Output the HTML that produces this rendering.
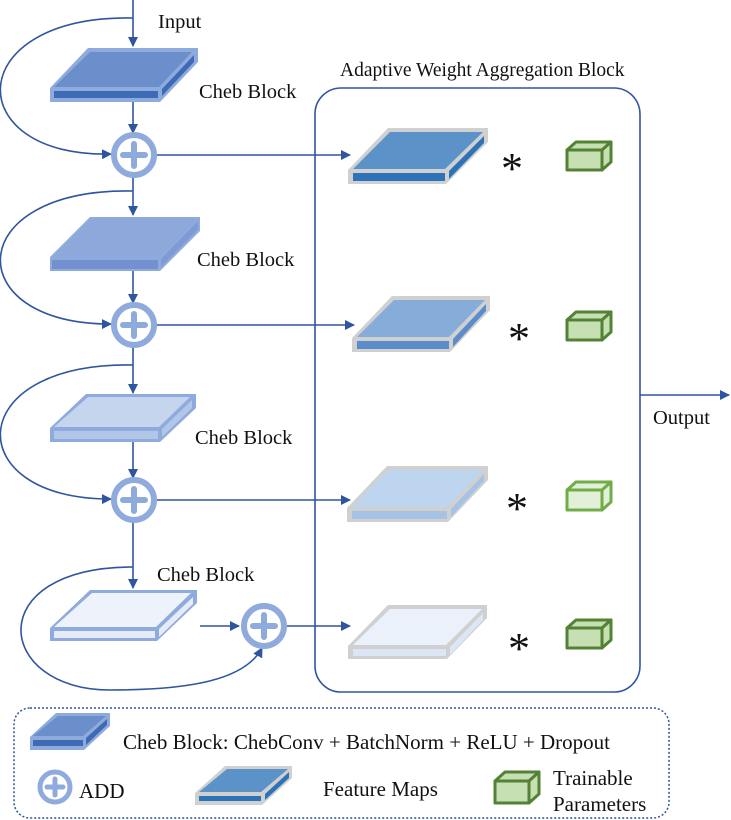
<!DOCTYPE html>
<html><head><meta charset="utf-8"><style>
html,body{margin:0;padding:0;background:#fff}
svg{display:block}
text{font-family:"Liberation Serif",serif;fill:#111}
</style></head><body>
<svg width="731" height="820" viewBox="0 0 731 820" xmlns="http://www.w3.org/2000/svg">
<defs>
<marker id="ah" markerWidth="10" markerHeight="10" refX="9" refY="5" orient="auto" markerUnits="userSpaceOnUse">
<path d="M0,0 L10,5 L0,10 Z" fill="#2f55a0"/></marker>
<g id="plus"><circle cx="0" cy="0" r="20" fill="#fff" stroke="#8faadc" stroke-width="6"/>
<path d="M-11,0 H11 M0,-11 V11" stroke="#8faadc" stroke-width="6" stroke-linecap="round"/></g>
</defs>

<rect x="315" y="88" width="325" height="604" rx="26" fill="none" stroke="#2f55a0" stroke-width="1.6"/>
<text x="340" y="76" font-size="19.5">Adaptive Weight Aggregation Block</text>
<line x1="640" y1="395" x2="729" y2="395" stroke="#2f55a0" stroke-width="1.6" marker-end="url(#ah)"/>
<text x="653" y="424" font-size="20.5">Output</text>
<text x="158" y="28" font-size="20.5">Input</text>

<g stroke="#2f55a0" stroke-width="1.6" fill="none">
<line x1="133" y1="0" x2="133" y2="46" marker-end="url(#ah)"/>
<line x1="133" y1="102" x2="133" y2="133" marker-end="url(#ah)"/>
<line x1="133" y1="177" x2="133" y2="215" marker-end="url(#ah)"/>
<line x1="133" y1="271" x2="133" y2="303" marker-end="url(#ah)"/>
<line x1="133" y1="347" x2="133" y2="393" marker-end="url(#ah)"/>
<line x1="133" y1="442" x2="133" y2="478" marker-end="url(#ah)"/>
<line x1="133" y1="522" x2="133" y2="588" marker-end="url(#ah)"/>
<line x1="200" y1="626" x2="239" y2="626" marker-end="url(#ah)"/>
<path d="M133,18 C-40,15 -40,158 111,154" marker-end="url(#ah)"/>
<path d="M133,191 C-40,188 -40,325 111,324" marker-end="url(#ah)"/>
<path d="M133,365 C-40,362 -40,500 111,499" marker-end="url(#ah)"/>
<path d="M133,567 C-20,567 -5,690 110,690 C190,690 245,680 262,648" marker-end="url(#ah)"/>
<line x1="157" y1="155" x2="350" y2="155" marker-end="url(#ah)"/>
<line x1="157" y1="325" x2="354" y2="325" marker-end="url(#ah)"/>
<line x1="157" y1="500" x2="350" y2="500" marker-end="url(#ah)"/>
<line x1="287" y1="626" x2="350" y2="626" marker-end="url(#ah)"/>
</g>

<use href="#plus" x="134" y="155"/>
<use href="#plus" x="134" y="325"/>
<use href="#plus" x="134" y="500"/>
<use href="#plus" x="264" y="626"/>

<g transform="translate(50,88)">
<polygon points="0,14 0,0 38,-40 148,-40 148,-26 110,14" fill="#8faadc"/>
<polygon points="4,-1 109,-1 142,-36 40,-36" fill="#6a8fcb"/>
<rect x="4" y="3" width="104" height="7" fill="#3e6bb5"/>
<polygon points="112,8 144,-26 144,-33 112,1" fill="#3e6bb5"/>
</g>
<g transform="translate(50,257)">
<polygon points="0,14 0,0 40,-40 150,-40 150,-26 110,14" fill="#8faadc"/>
<polygon points="2,0 110,0 148,-38 40,-38" fill="#8fa8db"/>
<rect x="2" y="3" width="106" height="9" fill="#7391d0"/>
<polygon points="111,10 148,-28 148,-36 111,2" fill="#7f9bd5"/>
</g>
<g transform="translate(50,428)">
<polygon points="0,14 0,0 36,-34 146,-34 146,-20 110,14" fill="#8faadc"/>
<polygon points="4,-1 109,-1 140,-31 38,-31" fill="#c5d5ee"/>
<rect x="4" y="3" width="104" height="8" fill="#b2c6e8"/>
<polygon points="112,9 142,-20 142,-28 112,1" fill="#b2c6e8"/>
</g>
<g transform="translate(50,628)">
<polygon points="0,13 0,0 40,-38 147,-38 147,-25 107,13" fill="#8faadc"/>
<polygon points="4,-1 106,-1 141,-35 42,-35" fill="#eef2fa"/>
<rect x="4" y="3" width="101" height="7" fill="#e6ecf7"/>
<polygon points="109,9 143,-24 143,-31 109,1" fill="#e6ecf7"/>
</g>
<text x="199" y="98" font-size="20.5">Cheb Block</text>
<text x="197" y="266" font-size="20.5">Cheb Block</text>
<text x="195" y="444" font-size="20.5">Cheb Block</text>
<text x="157" y="581" font-size="20.5">Cheb Block</text>

<g transform="translate(348,170)">
<polygon points="0,14 0,0 40,-42 140,-42 140,-28 98,14" fill="#d0d0d0"/>
<polygon points="5,-1 97,-1 135,-38 42,-38" fill="#5b93c9"/>
<rect x="5" y="3" width="92" height="8" fill="#2e72b8"/>
<polygon points="101,9 136,-27 136,-34 101,1" fill="#2e72b8"/>
</g>
<g transform="translate(352,338)">
<polygon points="0,14 0,0 40,-42 138,-42 138,-28 98,14" fill="#d0d0d0"/>
<polygon points="5,-1 97,-1 133,-38 42,-38" fill="#86acd9"/>
<rect x="5" y="3" width="92" height="8" fill="#5b8ccb"/>
<polygon points="101,9 134,-27 134,-34 101,1" fill="#5b8ccb"/>
</g>
<g transform="translate(347,508)">
<polygon points="0,14 0,0 40,-42 141,-42 141,-28 101,14" fill="#d0d0d0"/>
<polygon points="5,-1 100,-1 136,-38 42,-38" fill="#bdd5ee"/>
<rect x="5" y="3" width="95" height="8" fill="#a6c3e6"/>
<polygon points="104,9 137,-27 137,-34 104,1" fill="#a6c3e6"/>
</g>
<g transform="translate(348,646)">
<polygon points="0,13 0,0 40,-41 139,-41 139,-28 99,13" fill="#d0d0d0"/>
<polygon points="5,-1 98,-1 134,-37 42,-37" fill="#eaf1fa"/>
<rect x="5" y="3" width="93" height="7" fill="#dce7f5"/>
<polygon points="102,9 135,-26 135,-33 102,1" fill="#dce7f5"/>
</g>

<text x="501" y="183" font-size="44">*</text>
<text x="508" y="353" font-size="44">*</text>
<text x="506" y="523" font-size="44">*</text>
<text x="508" y="663" font-size="44">*</text>

<g fill="#c6e0b4" stroke="#548235" stroke-width="3" stroke-linejoin="round">
<g transform="translate(567,150)"><polygon points="0,0 9,-8 44,-8 35,0"/><rect x="0" y="0" width="35" height="20"/><polygon points="35,0 44,-8 44,12 35,20"/></g>
<g transform="translate(567,320)"><polygon points="0,0 9,-8 44,-8 35,0"/><rect x="0" y="0" width="35" height="20"/><polygon points="35,0 44,-8 44,12 35,20"/></g>
<g transform="translate(567,490)" stroke="#70ad47" fill="#e2efd9"><polygon points="0,0 9,-8 44,-8 35,0"/><rect x="0" y="0" width="35" height="20"/><polygon points="35,0 44,-8 44,12 35,20"/></g>
<g transform="translate(567,628)"><polygon points="0,0 9,-8 44,-8 35,0"/><rect x="0" y="0" width="35" height="20"/><polygon points="35,0 44,-8 44,12 35,20"/></g>
</g>

<rect x="14" y="708" width="655" height="110" rx="16" fill="none" stroke="#2f55a0" stroke-width="1.5" stroke-dasharray="2,2"/>
<g transform="translate(30,737)">
<polygon points="0,13 0,0 26,-24 80,-24 80,-11 54,13" fill="#8faadc"/>
<polygon points="3,-1 53,-1 76,-21 28,-21" fill="#6a8fcb"/>
<rect x="3" y="3" width="50" height="6" fill="#3e6bb5"/>
<polygon points="56,8 77,-12 77,-18 56,1" fill="#3e6bb5"/>
</g>
<text x="123" y="749" font-size="21">Cheb Block: ChebConv + BatchNorm + ReLU + Dropout</text>
<g transform="translate(55,787)"><circle r="15" fill="#fff" stroke="#8faadc" stroke-width="5"/><path d="M-8,0 H8 M0,-8 V8" stroke="#8faadc" stroke-width="5" stroke-linecap="round"/></g>
<text x="79" y="798" font-size="21">ADD</text>
<g transform="translate(195,793)">
<polygon points="0,12 0,0 30,-27 97,-27 97,-15 67,12" fill="#d0d0d0"/>
<polygon points="4,-1 66,-1 93,-24 32,-24" fill="#5b93c9"/>
<rect x="4" y="3" width="62" height="5" fill="#2e72b8"/>
<polygon points="70,7 94,-15 94,-21 70,1" fill="#2e72b8"/>
</g>
<text x="323" y="796" font-size="21">Feature Maps</text>
<g transform="translate(495,781)" fill="#c6e0b4" stroke="#548235" stroke-width="3" stroke-linejoin="round"><polygon points="0,0 10,-9 44,-9 34,0"/><rect x="0" y="0" width="34" height="22"/><polygon points="34,0 44,-9 44,13 34,22"/></g>
<text x="553" y="785" font-size="21">Trainable</text>
<text x="553" y="811" font-size="21">Parameters</text>
</svg>
</body></html>
